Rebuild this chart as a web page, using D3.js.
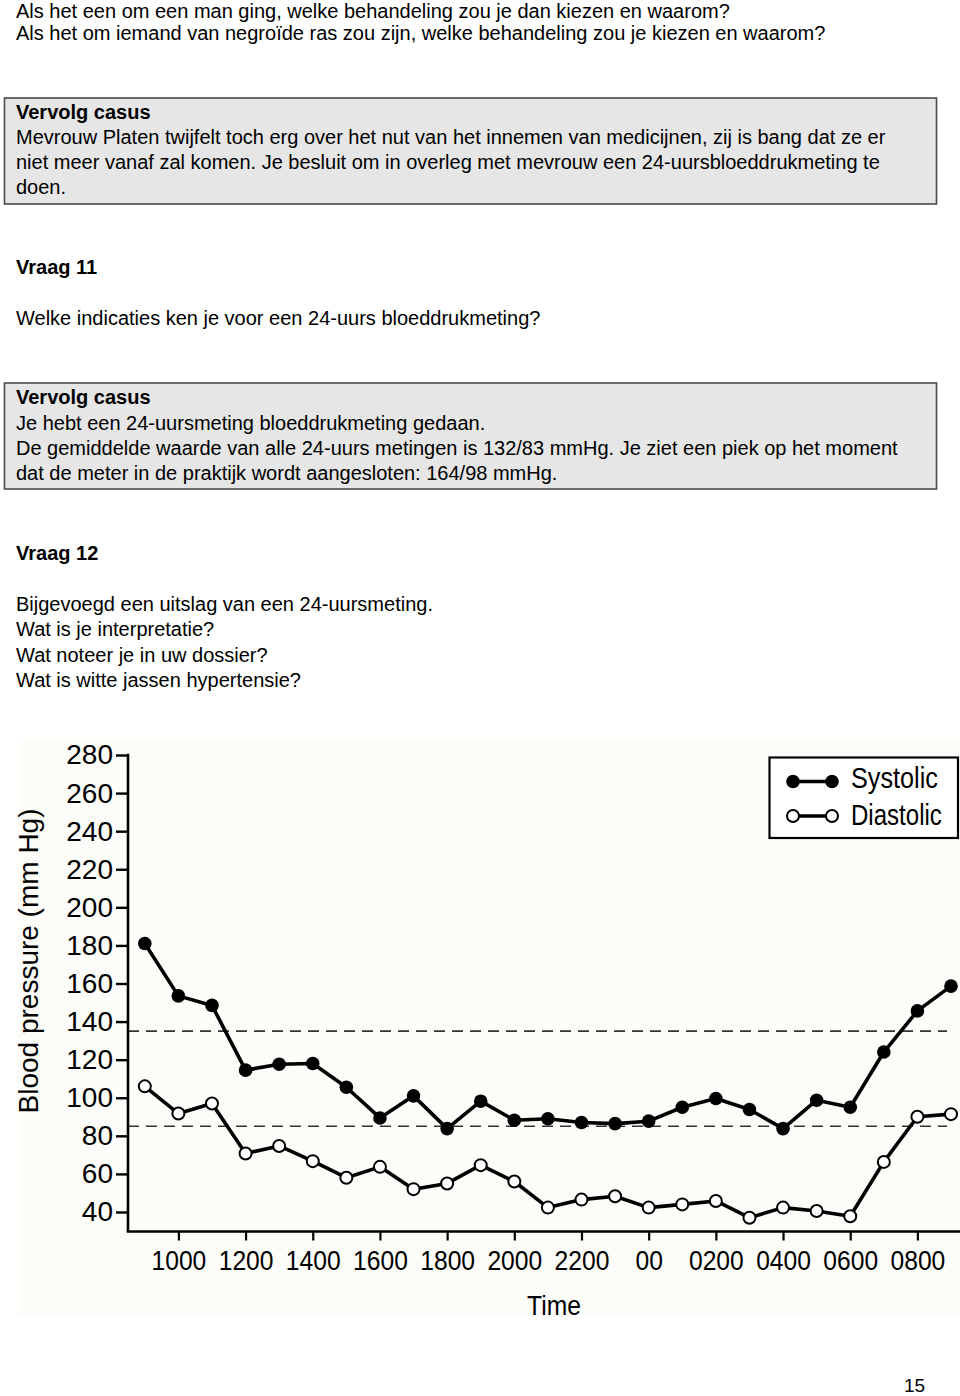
<!DOCTYPE html>
<html>
<head>
<meta charset="utf-8">
<script src="https://cdn.jsdelivr.net/npm/d3@7"></script>
<style>
  html, body { margin: 0; padding: 0; background: #fff; }
  svg { display: block; }
  text { font-family: "Liberation Sans", Arial, Helvetica, sans-serif; fill: #000; }
</style>
</head>
<body>
<svg id="page" width="960" height="1396"></svg>
<script>
// ---- Data ----
const hours = [9,10,11,12,13,14,15,16,17,18,19,20,21,22,23,24,25,26,27,28,29,30,31,32,33];
const systolic = [181,153.5,148.5,114.5,117.6,118,105.5,89.4,101,83.8,98.2,88.2,89,87,86.4,87.7,95,99.6,93.8,83.8,98.7,95,124,145.6,158.6];
const diastolic = [106,91.7,97,70.7,74.7,66.7,58,63.7,52,55,64.6,56,42.3,46.5,48.3,42.3,44,45.8,37,42.3,40.5,37.8,66.3,90,91.4];
const tickHours = [10,12,14,16,18,20,22,24,26,28,30,32];
const tickLabels = ["1000","1200","1400","1600","1800","2000","2200","00","0200","0400","0600","0800"];
const yTicks = [40,60,80,100,120,140,160,180,200,220,240,260,280];
const thresholds = [135, 85];
const seriesNames = ["Systolic","Diastolic"];

// ---- Text content ----
const textLines = [
  {t:"Als het een om een man ging, welke behandeling zou je dan kiezen en waarom?", y:18},
  {t:"Als het om iemand van negroïde ras zou zijn, welke behandeling zou je kiezen en waarom?", y:40},
  {t:"Vervolg casus", y:119, b:true},
  {t:"Mevrouw Platen twijfelt toch erg over het nut van het innemen van medicijnen, zij is bang dat ze er", y:144},
  {t:"niet meer vanaf zal komen. Je besluit om in overleg met mevrouw een 24-uursbloeddrukmeting te", y:169},
  {t:"doen.", y:194},
  {t:"Vraag 11", y:274, b:true},
  {t:"Welke indicaties ken je voor een 24-uurs bloeddrukmeting?", y:325},
  {t:"Vervolg casus", y:404, b:true},
  {t:"Je hebt een 24-uursmeting bloeddrukmeting gedaan.", y:430},
  {t:"De gemiddelde waarde van alle 24-uurs metingen is 132/83 mmHg. Je ziet een piek op het moment", y:455},
  {t:"dat de meter in de praktijk wordt aangesloten: 164/98 mmHg.", y:480},
  {t:"Vraag 12", y:560, b:true},
  {t:"Bijgevoegd een uitslag van een 24-uursmeting.", y:611},
  {t:"Wat is je interpretatie?", y:636},
  {t:"Wat noteer je in uw dossier?", y:662},
  {t:"Wat is witte jassen hypertensie?", y:687}
];

const svg = d3.select("#page");

// grey boxes
[[98,204],[383,489]].forEach(([y0,y1]) => {
  svg.append("rect").attr("x",4.5).attr("y",y0).attr("width",932).attr("height",y1-y0)
    .attr("fill","#e6e6e6").attr("stroke","#4a4a4a").attr("stroke-width",1.6);
});

svg.selectAll("text.body").data(textLines).enter().append("text")
  .attr("class","body")
  .attr("x",16).attr("y",d=>d.y)
  .attr("font-size",20)
  .attr("font-weight",d=>d.b?"bold":"normal")
  .text(d=>d.t);

// ---- Chart ----
const chart = svg.append("g");
chart.append("rect").attr("x",18).attr("y",738).attr("width",942).attr("height",577).attr("fill","#fcfcf8");

const x = d3.scaleLinear().domain([9,33]).range([144.8,951]);
const y = d3.scaleLinear().domain([40,280]).range([1212,755]);
const axisX0 = 128, axisY0 = 1231.5;

// threshold dashed lines
chart.selectAll("line.th").data(thresholds).enter().append("line")
  .attr("x1",axisX0).attr("x2",947)
  .attr("y1",d=>y(d)).attr("y2",d=>y(d))
  .attr("stroke","#333").attr("stroke-width",1.6).attr("stroke-dasharray","11,7");

// y axis
const yAxis = chart.append("g").attr("transform",`translate(${axisX0},0)`)
  .call(d3.axisLeft(y).tickValues(yTicks).tickSize(12).tickPadding(3).tickSizeOuter(0));
yAxis.select(".domain").remove();
yAxis.selectAll(".tick line").attr("stroke","#000").attr("stroke-width",2.4);
yAxis.selectAll(".tick text").attr("font-size",28).attr("font-family","'Liberation Sans', Arial, sans-serif").attr("fill","#000");
chart.append("line").attr("x1",axisX0).attr("x2",axisX0).attr("y1",y(280)-1.2).attr("y2",axisY0)
  .attr("stroke","#000").attr("stroke-width",2.6);

// x axis
const xAxis = chart.append("g").attr("transform",`translate(0,${axisY0})`)
  .call(d3.axisBottom(x).tickValues(tickHours).tickFormat((d,i)=>tickLabels[i]).tickSize(9).tickPadding(10).tickSizeOuter(0));
xAxis.select(".domain").remove();
xAxis.selectAll(".tick line").attr("stroke","#000").attr("stroke-width",2.2);
xAxis.selectAll(".tick text").attr("font-size",28).attr("font-family","'Liberation Sans', Arial, sans-serif").attr("fill","#000")
  .attr("transform","scale(0.88,1)");
chart.append("line").attr("x1",axisX0-1.3).attr("x2",960).attr("y1",axisY0).attr("y2",axisY0)
  .attr("stroke","#000").attr("stroke-width",2.6);

// axis titles
chart.append("text").attr("transform","translate(38,961) rotate(-90)")
  .attr("text-anchor","middle").attr("font-size",28).text("Blood pressure (mm Hg)");
chart.append("text").attr("transform","translate(554,1315) scale(0.88,1)")
  .attr("text-anchor","middle").attr("font-size",28).text("Time");

// lines
const line = d3.line().x(d=>x(d[0])).y(d=>y(d[1]));
const sysData = hours.map((h,i)=>[h,systolic[i]]);
const diaData = hours.map((h,i)=>[h,diastolic[i]]);
[sysData, diaData].forEach(data => {
  chart.append("path").datum(data).attr("d",line)
    .attr("fill","none").attr("stroke","#000").attr("stroke-width",3.6).attr("stroke-linejoin","round");
});
chart.selectAll("circle.sys").data(sysData).enter().append("circle")
  .attr("cx",d=>x(d[0])).attr("cy",d=>y(d[1])).attr("r",6.8).attr("fill","#000");
chart.selectAll("circle.dia").data(diaData).enter().append("circle")
  .attr("cx",d=>x(d[0])).attr("cy",d=>y(d[1])).attr("r",6).attr("fill","#fff")
  .attr("stroke","#000").attr("stroke-width",2);

// legend
const lg = chart.append("g");
lg.append("rect").attr("x",769.5).attr("y",757.5).attr("width",188.5).attr("height",80.5)
  .attr("fill","#fff").attr("stroke","#000").attr("stroke-width",2.2);
const legendRows = [{name:seriesNames[0], cy:781.5, base:788, sx:0.87, filled:true},
                    {name:seriesNames[1], cy:816, base:825, sx:0.83, filled:false}];
legendRows.forEach(r => {
  lg.append("line").attr("x1",793).attr("x2",832).attr("y1",r.cy).attr("y2",r.cy)
    .attr("stroke","#000").attr("stroke-width",3.6);
  [793,832].forEach(cx => {
    lg.append("circle").attr("cx",cx).attr("cy",r.cy).attr("r",r.filled?6.8:6)
      .attr("fill",r.filled?"#000":"#fff").attr("stroke","#000").attr("stroke-width",r.filled?0:2);
  });
  lg.append("text").attr("transform",`translate(851,${r.base}) scale(${r.sx},1)`)
    .attr("font-size",29).text(r.name);
});

// page number
svg.append("text").attr("x",904).attr("y",1392).attr("font-size",19).text("15");
</script>
</body>
</html>
